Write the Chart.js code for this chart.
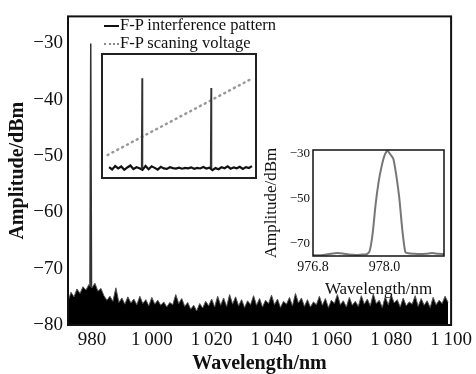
<!DOCTYPE html>
<html>
<head>
<meta charset="utf-8">
<script src="https://cdn.jsdelivr.net/npm/chart.js@4.4.1/dist/chart.umd.min.js"></script>
<style>
  body { margin: 0; background: #fff; }
  #wrap { position: relative; width: 476px; height: 374px; font-family: "Liberation Serif", "Times New Roman", serif; }
  #main { position: absolute; left: 0; top: 0; }
  #legend { position: absolute; left: 104px; top: 16px; font-size: 16.5px; line-height: 18px; color: #111; white-space: nowrap; }
  #legend .key { display: inline-block; width: 15px; vertical-align: middle; margin-right: 1px; }
  #legend .solid { border-top: 2px solid #111; }
  #legend .dots { border-top: 2px dotted #888; }
  #inset1 { position: absolute; left: 101px; top: 53px; width: 152px; height: 122px; border: 2px solid #222; background: #fff; }
  #inset2 { position: absolute; left: 255px; top: 138px; }
</style>
</head>
<body>
<div id="wrap">
  <canvas id="main" width="476" height="374"></canvas>
  <div id="legend">
    <div><span class="key solid"></span>F-P interference pattern</div>
    <div><span class="key dots"></span>F-P scaning voltage</div>
  </div>
  <div id="inset1"><canvas id="c1" width="152" height="122"></canvas></div>
  <canvas id="inset2" width="193" height="162"></canvas>
</div>
<script>
// main spectrum: noise floor, 1 nm steps from 972 nm
const noiseStart = 972;
const noiseLevel = [
  -75.8, -74.2, -75.0, -73.6, -74.4, -73.2, -73.8, -72.8, -73.4, -72.6,
  -74.0, -73.5, -74.8, -75.6, -74.9, -75.8, -73.4, -76.0, -75.2, -76.3,
  -75.0, -76.1, -75.4, -76.4, -74.9, -76.2, -75.5, -76.6, -75.1, -76.3,
  -75.6, -76.5, -75.9, -76.8, -76.0, -76.4, -74.6, -76.2, -75.3, -76.7,
  -76.0, -77.2, -76.5, -77.5, -76.2, -77.0, -75.8, -76.6, -75.4, -76.8,
  -74.9, -76.5, -75.2, -76.7, -74.6, -76.3, -75.0, -76.6, -75.5, -76.9,
  -75.7, -76.4, -74.8, -76.5, -75.3, -76.8, -75.6, -76.2, -74.7, -76.4,
  -75.4, -76.9, -75.8, -76.3, -75.1, -76.6, -74.4, -76.1, -75.2, -76.7,
  -75.5, -76.8, -75.9, -76.4, -74.9, -76.5, -75.3, -76.9, -75.6, -76.2,
  -74.6, -76.4, -75.7, -76.8, -75.1, -76.5, -75.8, -76.7, -74.8, -76.3,
  -75.4, -76.6, -74.5, -76.2, -75.6, -76.9, -75.0, -76.4, -74.7, -76.1,
  -75.5, -76.8, -75.2, -76.6, -75.9, -76.3, -74.8, -76.7, -75.3, -76.5,
  -75.7, -76.9, -75.1, -76.4, -75.6, -76.2, -74.9, -76.0
];
const spikeX = [979.3, 979.6, 979.9];
const spikeY = [-80, -30, -80];
const xTicks = [980, 1000, 1020, 1040, 1060, 1080, 1100];
const yTicks = [-80, -70, -60, -50, -40, -30];

// inset 1: interference pattern + scanning voltage (arbitrary units)
const fpNoiseStart = 4;
const fpNoise = [
  8.1, 6.2, 9.0, 7.0, 8.6, 5.9, 7.8, 9.4,
  6.5, 8.0, 7.2, 5.8, 9.1, 6.4, 8.8, 7.5,
  6.1, 8.3, 7.0, 6.6, 8.0, 7.3, 6.9, 7.7,
  6.8, 7.4, 7.1, 7.9, 6.7, 7.5, 7.0, 8.2,
  6.9, 7.6, 5.6, 7.3, 6.4, 8.0, 7.2, 8.7,
  6.8, 7.9, 7.1, 8.4, 6.6, 8.1, 7.4, 8.9
];
const fpPeakX = [25.7, 71.1];
const fpPeakTop = [81, 73];
const fpBase = 7.4;
const voltX = [3, 97];
const voltY = [18, 80];

// inset 2: zoom on the 978 nm line
const zoomX = [976.8, 976.9, 977.0, 977.1, 977.2, 977.3, 977.4, 977.5, 977.6, 977.7,
  977.75, 977.8, 977.85, 977.9, 977.95, 978.0, 978.05, 978.1, 978.15, 978.2,
  978.25, 978.3, 978.35, 978.4, 978.5, 978.6, 978.7, 978.8, 978.9, 979.0];
const zoomY = [-75.2, -75.3, -75.0, -74.6, -74.3, -74.5, -74.9, -75.1, -75.0, -74.8,
  -73.5, -66, -53, -43, -36, -31, -28.8, -30.5, -32.5, -40,
  -50, -64, -73.8, -74.4, -74.6, -74.7, -74.6, -74.3, -74.6, -74.7];
const zoomXTicks = [976.8, 978.0];
const zoomYTicks = [-70, -50, -30];

Chart.defaults.font.family = '"Liberation Serif", "Times New Roman", serif';
Chart.defaults.color = '#111';
Chart.defaults.animation = false;

const minus = v => String(v).replace('-', '\u2212');

const frame = {
  id: 'frame',
  afterDraw(chart, args, opts) {
    const a = chart.chartArea, ctx = chart.ctx;
    ctx.save();
    ctx.strokeStyle = '#111';
    ctx.lineWidth = opts.width || 2;
    ctx.strokeRect(a.left, a.top, a.right - a.left, a.bottom - a.top);
    ctx.restore();
  }
};

new Chart(document.getElementById('main'), {
  type: 'line',
  data: {
    datasets: [{
      data: noiseLevel.map((v, i) => ({ x: noiseStart + i, y: v })),
      borderColor: '#555',
      borderWidth: 1,
      backgroundColor: '#000',
      fill: 'start',
      pointRadius: 0,
      tension: 0
    }, {
      data: spikeX.map((x, i) => ({ x, y: spikeY[i] })),
      borderColor: '#333',
      borderWidth: 1.5,
      pointRadius: 0,
      tension: 0
    }]
  },
  options: {
    responsive: false,
    layout: { padding: { left: 0, right: 23, top: 12, bottom: 0 } },
    plugins: { legend: { display: false }, tooltip: { enabled: false }, frame: { width: 2 } },
    scales: {
      x: {
        type: 'linear', min: 972, max: 1100,
        afterBuildTicks: s => { s.ticks = xTicks.map(v => ({ value: v })); },
        afterFit: s => { s.height = 49; },
        grid: { display: false, drawTicks: false },
        border: { display: false },
        ticks: {
          font: { size: 19 }, padding: 4, maxRotation: 0,
          callback: v => v >= 1000 ? '1\u2009' + String(v).slice(1) : String(v)
        },
        title: { display: true, text: 'Wavelength/nm', font: { size: 20, weight: 'bold' }, padding: { top: 0, bottom: -2 } }
      },
      y: {
        min: -80, max: -25.2,
        afterBuildTicks: s => { s.ticks = yTicks.map(v => ({ value: v })); },
        afterFit: s => { s.width = 68; },
        grid: { display: false, drawTicks: false },
        border: { display: false },
        ticks: { font: { size: 19 }, padding: 5, callback: minus },
        title: { display: true, text: 'Amplitude/dBm', font: { size: 20, weight: 'bold' }, padding: { top: 6, bottom: 0 } }
      }
    }
  },
  plugins: [frame]
});

new Chart(document.getElementById('c1'), {
  type: 'line',
  data: {
    datasets: [{
      data: fpNoise.map((v, i) => ({ x: fpNoiseStart + 2 * i, y: v })),
      borderColor: '#111', borderWidth: 2.2, pointRadius: 0, tension: 0
    }].concat(fpPeakX.map((p, i) => ({
      data: [{ x: p - 0.3, y: fpBase }, { x: p, y: fpPeakTop[i] }, { x: p + 0.3, y: fpBase }],
      borderColor: '#333', borderWidth: 1.5, pointRadius: 0, tension: 0
    }))).concat([{
      data: voltX.map((x, i) => ({ x, y: voltY[i] })),
      borderColor: '#999', borderWidth: 2.5, borderDash: [1, 4.5], borderCapStyle: 'round',
      pointRadius: 0, tension: 0
    }])
  },
  options: {
    responsive: false,
    layout: { padding: 0 },
    plugins: { legend: { display: false }, tooltip: { enabled: false } },
    scales: {
      x: { type: 'linear', min: 0, max: 100, display: false },
      y: { min: 0, max: 100, display: false }
    }
  }
});

new Chart(document.getElementById('inset2'), {
  type: 'line',
  data: {
    datasets: [{
      data: zoomX.map((x, i) => ({ x, y: zoomY[i] })),
      borderColor: '#777', borderWidth: 2, pointRadius: 0, tension: 0.2
    }]
  },
  options: {
    responsive: false,
    layout: { padding: { left: 0, right: 4, top: 12, bottom: 0 } },
    plugins: { legend: { display: false }, tooltip: { enabled: false }, frame: { width: 1.5 } },
    scales: {
      x: {
        type: 'linear', min: 976.8, max: 979.0,
        afterBuildTicks: s => { s.ticks = zoomXTicks.map(v => ({ value: v })); },
        afterFit: s => { s.height = 44; },
        grid: { display: false, drawTicks: false },
        border: { display: false },
        ticks: { font: { size: 14 }, padding: 3, maxRotation: 0, callback: v => v.toFixed(1) },
        title: { display: true, text: 'Wavelength/nm', font: { size: 17 }, padding: { top: 0, bottom: 0 } }
      },
      y: {
        min: -75.6, max: -28.5,
        afterBuildTicks: s => { s.ticks = zoomYTicks.map(v => ({ value: v })); },
        afterFit: s => { s.width = 58; },
        grid: { display: false, drawTicks: false },
        border: { display: false },
        ticks: { font: { size: 13 }, padding: 3, callback: minus },
        title: { display: true, text: 'Amplitude/dBm', font: { size: 17 }, padding: { top: 6, bottom: 0 } }
      }
    }
  },
  plugins: [frame]
});
</script>
</body>
</html>
